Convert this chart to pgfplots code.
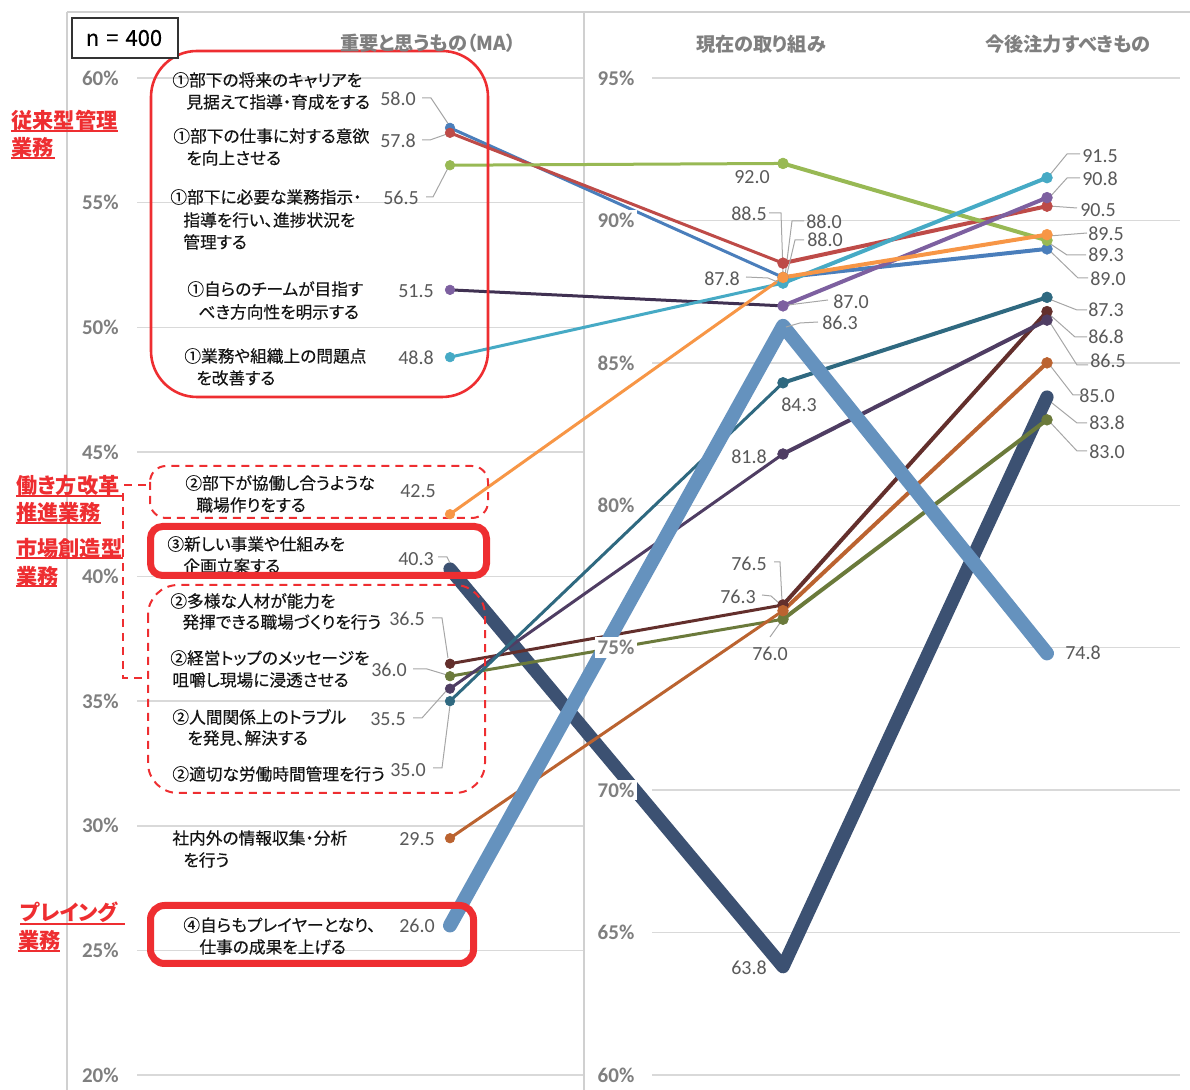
\documentclass[border=0pt]{standalone}
\usepackage{fontspec}
\usepackage{pgfplots}
\usepackage{pgfplotstable}
\pgfplotsset{compat=1.18}
\setmainfont{Carlito}
\newfontfamily\jp{Noto Sans CJK JP}[RawFeature={+palt}]
\newfontfamily\jpl{Noto Sans CJK JP}[RawFeature={+palt}, FakeBold=0.35]

\definecolor{cBlue}{HTML}{4A7EBB}
\definecolor{cRed}{HTML}{BE4B48}
\definecolor{cGreen}{HTML}{98B954}
\definecolor{cPurpleL}{HTML}{7D60A0}
\definecolor{cPurpleD}{HTML}{403152}
\definecolor{cTeal}{HTML}{46AAC5}
\definecolor{cOrange}{HTML}{F79646}
\definecolor{cNavy}{HTML}{3C5172}
\definecolor{cBrown}{HTML}{632F2C}
\definecolor{cOlive}{HTML}{6B7A3B}
\definecolor{cPurpleM}{HTML}{4F3D63}
\definecolor{cTealD}{HTML}{2F6980}
\definecolor{cOrBrown}{HTML}{BB6330}
\definecolor{cLBlue}{HTML}{6592BE}
\definecolor{cRedBox}{HTML}{EE2E31}
\definecolor{cGrid}{HTML}{D9D9D9}
\definecolor{cFrame}{HTML}{D0D0D0}
\definecolor{cTick}{HTML}{7F7F7F}
\definecolor{cVal}{HTML}{595959}
\definecolor{cLead}{HTML}{A6A6A6}

% values: first row on the left scale (20-60%), the others on the right scale (60-95%)
\pgfplotstableread{
x    career motiv instr team prob collab newbiz divers topmsg relat hours info player
450  58.0   57.8  56.5  51.5 48.8 42.5   40.3   36.5   36.0   35.5  35.0  29.5 26.0
783  88.0   88.5  92.0  87.0 87.8 88.0   63.8   76.5   76.0   81.8  84.3  76.3 86.3
1047 89.0   90.5  89.3  90.8 91.5 89.5   83.8   86.8   83.0   86.5  87.3  85.0 74.8
}\data

\newcommand\Ypos[1]{\thisrow{x}<600 ? 1075-(\thisrow{#1}-20)*24.925 : 1075-(\thisrow{#1}-60)*28.4857}

\newcommand\seg[7]{%
\addplot[draw=#2, line width=#4, mark=*, mark size=#6, mark options={fill=#3, draw=#3, line width=0.3pt}]
  table[x=x, y expr={\Ypos{#1}}, skip coords between index={2}{3}] {\data};
\addplot[draw=#3, line width=#5, mark=*, mark size=#7, mark options={fill=#3, draw=#3, line width=0.3pt}]
  table[x=x, y expr={\Ypos{#1}}, skip coords between index={0}{1}] {\data};
}
\newcommand\thick[3]{%
\addplot[draw=#2, line width=#3, mark=none, line cap=round, line join=round]
  table[x=x, y expr={\Ypos{#1}}] {\data};
}

\tikzset{
 jl/.style={font=\jpl\fontsize{8.35}{10}\selectfont, text=black!92, anchor=west, inner sep=0},
 val/.style={font=\fontsize{10}{12}\selectfont, text=cVal, inner sep=0},
 ld/.style={draw=cLead, line width=0.5pt},
 ltk/.style={font=\bfseries\fontsize{10.5}{12}\selectfont, text=cTick, anchor=east, inner sep=0},
 rtk/.style={font=\bfseries\fontsize{10.5}{12}\selectfont, text=cTick, fill=white, inner sep=1.5pt},
 hdr/.style={font=\jp\bfseries\fontsize{9.6}{11}\selectfont, text=cTick, inner sep=0},
 ann/.style={font=\jp\bfseries\fontsize{10.6}{12}\selectfont, text=cRedBox, anchor=west, inner sep=0},
 ul/.style={draw=cRedBox, line width=0.9pt},
}

\begin{document}
\begin{tikzpicture}
\begin{axis}[
  width=595pt, height=545pt, scale only axis,
  xmin=0, xmax=1190, ymin=0, ymax=1090, y dir=reverse,
  hide axis, clip=false]

% frame
\draw[cFrame, line width=1.2pt] (67,12) -- (67,1090);
\draw[cFrame, line width=1pt] (67,12) -- (1190,12);
\draw[cFrame, line width=0.8pt] (584,12) -- (584,1090);

% gridlines left (20..60)
\foreach \yy in {78,202.6,327.3,451.9,576.5,701.1,825.8,950.4,1075}{
  \edef\tmp{\noexpand\draw[cGrid, line width=0.75pt] (137,\yy) -- (583,\yy);}\tmp}
% gridlines right (60..95)
\foreach \yy in {78,220.4,362.9,505.3,647.7,790.1,932.6,1075}{
  \edef\tmp{\noexpand\draw[cGrid, line width=0.75pt] (652,\yy) -- (1180,\yy);}\tmp}

% left tick labels
\node[ltk] at (119,78) {60\%};
\node[ltk] at (119,202.6) {55\%};
\node[ltk] at (119,327.3) {50\%};
\node[ltk] at (119,451.9) {45\%};
\node[ltk] at (119,576.5) {40\%};
\node[ltk] at (119,701.1) {35\%};
\node[ltk] at (119,825.8) {30\%};
\node[ltk] at (119,950.4) {25\%};
\node[ltk] at (119,1075) {20\%};

% series
\seg{career}{cBlue}{cBlue}{1.5pt}{2pt}{2.4pt}{2.7pt}
\seg{motiv}{cRed}{cRed}{1.5pt}{2pt}{2.4pt}{2.7pt}
\seg{instr}{cGreen}{cGreen}{1.5pt}{2pt}{2.4pt}{2.7pt}
\seg{team}{cPurpleD}{cPurpleL}{1.5pt}{2pt}{2.4pt}{2.7pt}
\seg{prob}{cTeal}{cTeal}{1.5pt}{2pt}{2.4pt}{2.7pt}
\seg{collab}{cOrange}{cOrange}{1.5pt}{2pt}{2.4pt}{2.7pt}
\thick{newbiz}{cNavy}{6.6pt}
\seg{divers}{cBrown}{cBrown}{1.5pt}{2pt}{2.4pt}{2.7pt}
\seg{topmsg}{cOlive}{cOlive}{1.5pt}{2pt}{2.4pt}{2.7pt}
\seg{relat}{cPurpleM}{cPurpleM}{1.5pt}{2pt}{2.4pt}{2.7pt}
\seg{hours}{cTealD}{cTealD}{1.5pt}{2pt}{2.4pt}{2.7pt}
\seg{info}{cOrBrown}{cOrBrown}{1.5pt}{2pt}{2.4pt}{2.7pt}
\thick{player}{cLBlue}{7pt}

% right tick labels
\node[rtk] at (616,78) {95\%};
\node[rtk] at (616,220.4) {90\%};
\node[rtk] at (616,362.9) {85\%};
\node[rtk] at (616,505.3) {80\%};
\node[rtk] at (616,647.7) {75\%};
\node[rtk] at (616,790.1) {70\%};
\node[rtk] at (616,932.6) {65\%};
\node[rtk] at (616,1075) {60\%};

% value labels column 1
\node[val] at (398,99) {58.0};
\node[val] at (398,141) {57.8};
\node[val] at (401,198) {56.5};
\node[val] at (416,291) {51.5};
\node[val] at (416,358) {48.8};
\node[val] at (418,491) {42.5};
\node[val] at (416,559) {40.3};
\node[val] at (407,619) {36.5};
\node[val] at (389,670) {36.0};
\node[val] at (388,719) {35.5};
\node[val] at (408,770) {35.0};
\node[val] at (417,839) {29.5};
\node[val] at (417,926) {26.0};
\draw[ld] (422,98) -- (431,98) -- (449,125);
\draw[ld] (422,140) -- (430,140) -- (447,134);
\draw[ld] (426,197) -- (433,197) -- (448,168);
\draw[ld] (438,557) -- (447,557) -- (450,563);
\draw[ld] (432,618) -- (442,618) -- (448,658);
\draw[ld] (413,669) -- (427,669) -- (447,675);
\draw[ld] (413,718) -- (422,718) -- (447,690);
\draw[ld] (433,768) -- (442,768) -- (450,705);

% value labels column 2
\node[val] at (752,177) {92.0};
\node[val] at (749,214) {88.5};
\node[val] at (824,222) {88.0};
\node[val] at (825,240) {88.0};
\node[val] at (722,279) {87.8};
\node[val] at (851,302) {87.0};
\node[val] at (840,323) {86.3};
\node[val] at (799,405) {84.3};
\node[val] at (749,457) {81.8};
\node[val] at (749,564) {76.5};
\node[val] at (738,597) {76.3};
\node[val] at (770,654) {76.0};
\node[val] at (749,968) {63.8};
\draw[ld] (769,213) -- (781,213) -- (783,272);
\draw[ld] (804,221) -- (792,221) -- (785,276);
\draw[ld] (804,240) -- (795,240) -- (786,278);
\draw[ld] (746,277) -- (768,278) -- (780,283);
\draw[ld] (828,300) -- (788,305);
\draw[ld] (818,322) -- (800,323) -- (786,327);
\draw[ld] (774,562) -- (780,562) -- (782,601);
\draw[ld] (762,595) -- (771,596) -- (780,604);
\draw[ld] (770,637) -- (780,623);

% value labels column 3
\node[val] at (1100,156) {91.5};
\node[val] at (1100,179) {90.8};
\node[val] at (1098,210) {90.5};
\node[val] at (1106,234) {89.5};
\node[val] at (1106,255) {89.3};
\node[val] at (1108,279) {89.0};
\node[val] at (1106,310) {87.3};
\node[val] at (1106,337) {86.8};
\node[val] at (1108,361) {86.5};
\node[val] at (1097,396) {85.0};
\node[val] at (1107,423) {83.8};
\node[val] at (1107,452) {83.0};
\node[val] at (1083,653) {74.8};
\draw[ld] (1080,154) -- (1067,154) -- (1049,176);
\draw[ld] (1080,178) -- (1067,178) -- (1049,198);
\draw[ld] (1077,208) -- (1049,206);
\draw[ld] (1087,233) -- (1049,236);
\draw[ld] (1086,255) -- (1067,255) -- (1049,243);
\draw[ld] (1088,278) -- (1078,278) -- (1049,250);
\draw[ld] (1087,310) -- (1077,310) -- (1049,299);
\draw[ld] (1087,337) -- (1075,337) -- (1049,314);
\draw[ld] (1088,365) -- (1077,365) -- (1049,321);
\draw[ld] (1084,395) -- (1073,395) -- (1049,364);
\draw[ld] (1087,423) -- (1077,423) -- (1052,403);
\draw[ld] (1087,451) -- (1077,451) -- (1049,421);

% category labels
\node[jl] at (172,80) {①部下の将来のキャリアを};
\node[jl] at (186,102) {見据えて指導・育成をする};
\node[jl] at (173,136) {①部下の仕事に対する意欲};
\node[jl] at (186,158) {を向上させる};
\node[jl] at (170,197) {①部下に必要な業務指示・};
\node[jl] at (183,220) {指導を行い、進捗状況を};
\node[jl] at (183,242) {管理する};
\node[jl] at (187,289) {①自らのチームが目指す};
\node[jl] at (198,312) {べき方向性を明示する};
\node[jl] at (184,356) {①業務や組織上の問題点};
\node[jl] at (196,378) {を改善する};
\node[jl] at (185,483) {②部下が協働し合うような};
\node[jl] at (196,505) {職場作りをする};
\node[jl] at (167,544) {③新しい事業や仕組みを};
\node[jl] at (183,566) {企画立案する};
\node[jl] at (170,601) {②多様な人材が能力を};
\node[jl] at (182,622) {発揮できる職場づくりを行う};
\node[jl] at (170,658) {②経営トップのメッセージを};
\node[jl] at (172,680) {咀嚼し現場に浸透させる};
\node[jl] at (172,717) {②人間関係上のトラブル};
\node[jl] at (187,738) {を発見、解決する};
\node[jl] at (172,774) {②適切な労働時間管理を行う};
\node[jl] at (172,838) {社内外の情報収集・分析};
\node[jl] at (183,860) {を行う};
\node[jl] at (183,925) {④自らもプレイヤーとなり、};
\node[jl] at (199,947) {仕事の成果を上げる};

% red boxes
\draw[cRedBox, line width=1.3pt, rounded corners=23pt] (151,51) rectangle (488,397);
\draw[cRedBox, line width=1pt, dash pattern=on 4pt off 3pt, rounded corners=8pt] (150,466) rectangle (488,518);
\draw[cRedBox, line width=3.5pt, rounded corners=6pt] (150.5,526.5) rectangle (486.5,575.5);
\draw[cRedBox, line width=1pt, dash pattern=on 4pt off 3pt, rounded corners=15pt] (148,585) rectangle (485,793);
\draw[cRedBox, line width=3.5pt, rounded corners=7pt] (150.5,905.5) rectangle (473.5,963.5);

% red annotations
\node[ann] at (11,120) {従来型管理};
\node[ann] at (11,147) {業務};
\draw[ul] (11,131) -- (118,131);
\draw[ul] (11,158) -- (55,158);
\node[ann] at (16,485) {働き方改革};
\node[ann] at (16,512) {推進業務};
\draw[ul] (16,496) -- (122,496);
\draw[ul] (16,523) -- (101,523);
\node[ann] at (16,548) {市場創造型};
\node[ann] at (16,576) {業務};
\draw[ul] (16,558) -- (123,558);
\draw[ul] (16,586) -- (57,586);
\node[ann] at (20,912) {プレイング};
\node[ann] at (18,940) {業務};
\draw[ul] (20,924) -- (125,924);
\draw[ul] (18,951) -- (60,951);
\draw[cRedBox, line width=1pt, dash pattern=on 4pt off 3pt] (124,485) -- (149,485);
\draw[cRedBox, line width=1pt, dash pattern=on 4pt off 3pt] (123,493) -- (123,678) -- (148,678);

% headers
\node[hdr] at (428,43) {重要と思うもの（MA）};
\node[hdr] at (761,44) {現在の取り組み};
\node[hdr] at (1068,44) {今後注力すべきもの};

% n = 400
\draw[black!80, line width=0.8pt, fill=white] (72,18) rectangle (178,58);
\node[font=\jpl\fontsize{11}{13}\selectfont, inner sep=0] at (124,38) {n\hspace{3.5pt}=\hspace{3.5pt}400};
\end{axis}
\pgfresetboundingbox
\useasboundingbox (0,0) rectangle (595pt,545pt);
\end{tikzpicture}
\end{document}
